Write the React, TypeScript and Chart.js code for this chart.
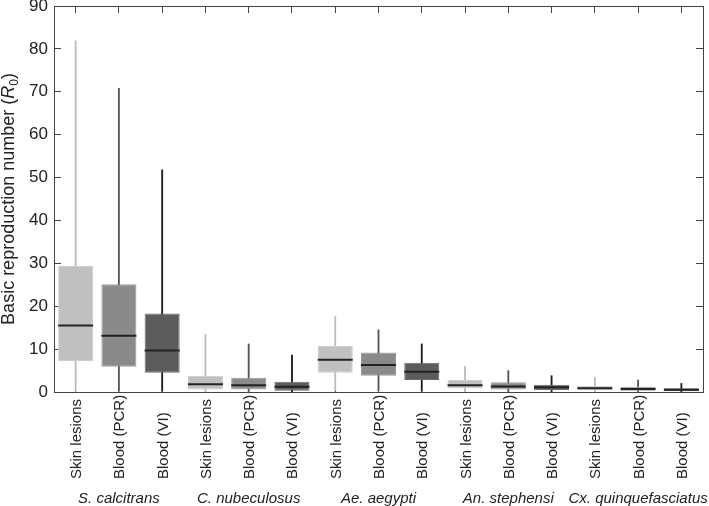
import React, { useEffect, useRef } from "react";
import { Chart, registerables } from "chart.js";

Chart.register(...registerables);

const categories = [
  "Skin lesions", "Blood (PCR)", "Blood (VI)",
  "Skin lesions", "Blood (PCR)", "Blood (VI)",
  "Skin lesions", "Blood (PCR)", "Blood (VI)",
  "Skin lesions", "Blood (PCR)", "Blood (VI)",
  "Skin lesions", "Blood (PCR)", "Blood (VI)",
];
const species = ["S. calcitrans", "C. nubeculosus", "Ae. aegypti", "An. stephensi", "Cx. quinquefasciatus"];

const whiskerLow = [0.2, 0.2, 0.2, 0.1, 0.1, 0.1, 0.3, 0.3, 0.2, 0.1, 0.1, 0.05, 0.05, 0.05, 0.02];
const q1 = [7.2, 5.9, 4.5, 0.6, 0.6, 0.3, 4.5, 3.8, 2.8, 0.8, 0.6, 0.45, 0.4, 0.3, 0.2];
const median = [15.5, 13.1, 9.7, 1.8, 1.55, 1.2, 7.5, 6.3, 4.7, 1.6, 1.3, 1.1, 0.85, 0.7, 0.55];
const q3 = [29.4, 25.1, 18.3, 3.8, 3.3, 2.4, 10.7, 9.2, 6.8, 2.8, 2.3, 1.7, 1.4, 1.25, 0.9];
const whiskerHigh = [81.9, 70.8, 51.8, 13.4, 11.2, 8.6, 17.6, 14.5, 11.2, 5.9, 5.0, 3.8, 3.4, 2.8, 2.0];

const yMin = 0;
const yMax = 90;
const yStep = 10;

const boxFill = ["#c0c0c0", "#8a8a8a", "#5c5c5c"];
const boxEdge = ["#cecece", "#9a9a9a", "#6c6c6c"];
const whiskerColor = ["#bcbcbc", "#555555", "#1e1e1e"];

const FONT = '"Liberation Sans", Arial, sans-serif';

function zeroPad(s: any) {
  s.paddingTop = 0;
  s.paddingBottom = 0;
  s.paddingLeft = 0;
  s.paddingRight = 0;
}

export default function App() {
  const ref = useRef<HTMLCanvasElement | null>(null);

  useEffect(() => {
    if (!ref.current) return;
    const fills = categories.map((_, i) => boxFill[i % 3]);
    const edges = categories.map((_, i) => boxEdge[i % 3]);
    const whisk = categories.map((_, i) => whiskerColor[i % 3]);

    const textPlugin = {
      id: "textPlugin",
      afterDraw(chart: any) {
        const ctx = chart.ctx;
        const x = chart.scales.x;
        const area = chart.chartArea;
        ctx.save();
        ctx.fillStyle = "#222";
        ctx.font = `15px ${FONT}`;
        ctx.textAlign = "left";
        ctx.textBaseline = "alphabetic";
        categories.forEach((label, i) => {
          const px = x.getPixelForValue(i);
          ctx.save();
          ctx.translate(px + 5.5, 479);
          ctx.rotate(-Math.PI / 2);
          ctx.fillText(label, 0, 0);
          ctx.restore();
        });
        ctx.font = `italic 15px ${FONT}`;
        ctx.textAlign = "center";
        species.forEach((s, g) => {
          const px = x.getPixelForValue(g * 3 + 1);
          ctx.fillText(s, px, 503);
        });
        const cy = (area.top + area.bottom) / 2;
        ctx.translate(14, cy);
        ctx.rotate(-Math.PI / 2);
        const parts = [
          { t: "Basic reproduction number (", f: `18px ${FONT}`, dy: 0 },
          { t: "R", f: `italic 18px ${FONT}`, dy: 0 },
          { t: "0", f: `12px ${FONT}`, dy: 4 },
          { t: ")", f: `18px ${FONT}`, dy: 0 },
        ];
        let total = 0;
        parts.forEach((p) => {
          ctx.font = p.f;
          total += ctx.measureText(p.t).width;
        });
        let cx = -total / 2;
        ctx.textAlign = "left";
        parts.forEach((p) => {
          ctx.font = p.f;
          ctx.fillText(p.t, cx, p.dy);
          cx += ctx.measureText(p.t).width;
        });
        ctx.restore();
      },
    };

    const axisColor = "#444";
    const gridOpts = {
      display: true,
      offset: false,
      drawOnChartArea: false,
      drawTicks: true,
      tickLength: -7,
      tickColor: axisColor,
      color: axisColor,
    };
    const chart = new Chart(ref.current, {
      type: "bar",
      data: {
        labels: categories,
        datasets: [
          {
            type: "line",
            label: "median",
            data: median,
            showLine: false,
            pointStyle: "line",
            pointRadius: 17.5,
            pointHoverRadius: 17.5,
            pointBorderWidth: 2,
            pointBorderColor: "#222",
            borderColor: "#222",
            order: 0,
          } as any,
          {
            label: "box",
            data: q1.map((v, i) => [v, q3[i]]),
            backgroundColor: fills,
            borderColor: edges,
            borderWidth: 1,
            borderSkipped: false,
            grouped: false,
            barPercentage: 0.81,
            categoryPercentage: 1,
            order: 1,
          } as any,
          {
            label: "whisker",
            data: whiskerLow.map((v, i) => [v, whiskerHigh[i]]),
            backgroundColor: whisk,
            borderWidth: 0,
            grouped: false,
            barThickness: 1.2,
            order: 2,
          } as any,
        ],
      },
      options: {
        animation: false,
        responsive: false,
        devicePixelRatio: 1,
        layout: { padding: 0, autoPadding: false },
        events: [],
        plugins: {
          legend: { display: false },
          tooltip: { enabled: false },
          title: { display: false },
        },
        scales: {
          x: {
            type: "category",
            position: "bottom",
            offset: true,
            grid: gridOpts,
            border: { display: true, color: axisColor, width: 1 },
            ticks: { display: false },
            afterFit: (s: any) => { s.height = 114; zeroPad(s); },
          },
          x2: {
            type: "category",
            position: "top",
            labels: categories,
            offset: true,
            grid: gridOpts,
            border: { display: true, color: axisColor, width: 1 },
            ticks: { display: false },
            afterFit: (s: any) => { s.height = 6; zeroPad(s); },
          },
          y: {
            type: "linear",
            position: "left",
            min: yMin,
            max: yMax,
            ticks: {
              stepSize: yStep,
              padding: 13,
              color: "#222",
              font: { family: FONT, size: 17 },
            },
            grid: gridOpts,
            border: { display: true, color: axisColor, width: 1 },
            afterFit: (s: any) => { s.width = 54; zeroPad(s); },
          },
          y2: {
            type: "linear",
            position: "right",
            min: yMin,
            max: yMax,
            ticks: { display: false, stepSize: yStep },
            grid: gridOpts,
            border: { display: true, color: axisColor, width: 1 },
            afterFit: (s: any) => { s.width = 6; zeroPad(s); },
          },
        },
      } as any,
      plugins: [textPlugin],
    });
    return () => chart.destroy();
  }, []);

  return (
    <div style={{ position: "fixed", left: 0, top: 0, width: 709, height: 506, background: "#fff" }}>
      <canvas ref={ref} width={709} height={506} style={{ width: 709, height: 506, display: "block" }} />
    </div>
  );
}
